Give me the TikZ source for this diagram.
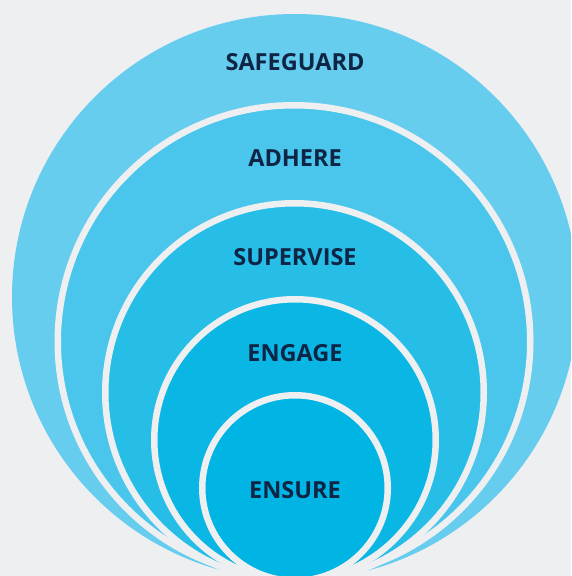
\documentclass[tikz,border=0pt]{standalone}
\usepackage{fontspec}
\setsansfont{Open Sans}
\definecolor{bggray}{RGB}{238,239,241}
\definecolor{ringA}{RGB}{103,205,238}
\definecolor{ringB}{RGB}{74,198,236}
\definecolor{ringC}{RGB}{38,190,231}
\definecolor{ringD}{RGB}{10,183,228}
\definecolor{ringE}{RGB}{0,181,227}
\definecolor{navy}{RGB}{14,37,69}
\tikzstyle{ring}=[draw=bggray,line width=6.5pt]
\tikzstyle{every node}=[font=\sffamily\bfseries\fontsize{23.5}{28}\selectfont,text=navy,inner sep=0pt]

\begin{document}
\begin{tikzpicture}[x=1pt,y=-1pt]
	\useasboundingbox (0,0) rectangle (571,576);
	\clip (0,0) rectangle (571,576);
	\fill[bggray] (0,0) rectangle (571,576);
	% rings, outside in
	\fill[ringA] (295,297) circle (283pt);
	\filldraw[ring,fill=ringB] (294,341.5) circle (236.25pt);
	\filldraw[ring,fill=ringC] (294.5,392.5) circle (189.25pt);
	\filldraw[ring,fill=ringD] (295,440) circle (140.75pt);
	\filldraw[ring,fill=ringE] (295,488) circle (92.75pt);
	% labels
	\node (safeguard) at (295,62) {SAFEGUARD};
	\node (adhere) at (295,158) {ADHERE};
	\node (supervise) at (295,257) {SUPERVISE};
	\node (engage) at (295,353) {ENGAGE};
	\node (ensure) at (295,490) {ENSURE};
\end{tikzpicture}
\end{document}
